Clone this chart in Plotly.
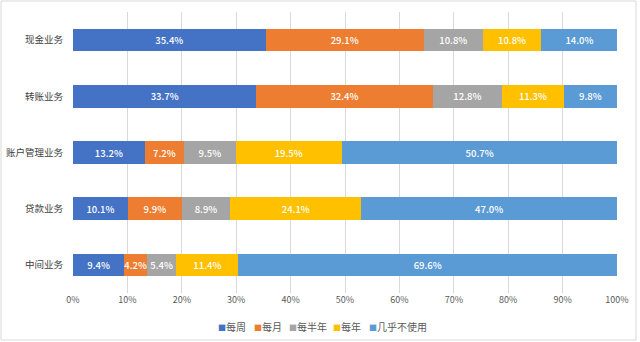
import plotly.graph_objects as go

# Business categories (top to bottom) and usage-frequency shares (%)
categories = ["现金业务", "转账业务", "账户管理业务", "贷款业务", "中间业务"]
series_names = ["每周", "每月", "每半年", "每年", "几乎不使用"]
weekly = [35.4, 33.7, 13.2, 10.1, 9.4]
monthly = [29.1, 32.4, 7.2, 9.9, 4.2]
half_year = [10.8, 12.8, 9.5, 8.9, 5.4]
yearly = [10.8, 11.3, 19.5, 24.1, 11.4]
rarely = [14.0, 9.8, 50.7, 47.0, 69.6]
x_ticks = [0, 10, 20, 30, 40, 50, 60, 70, 80, 90, 100]

series_values = [weekly, monthly, half_year, yearly, rarely]
colors = ["#4472C4", "#ED7D31", "#A5A5A5", "#FFC000", "#5B9BD5"]

FONT = "Noto Sans CJK SC"
W, H = 640, 342
ML, MR, MT, MB = 73, 23, 12, 49

fig = go.Figure()
for name, vals, col in zip(series_names, series_values, colors):
    fig.add_trace(go.Bar(
        y=categories,
        x=vals,
        name=name,
        orientation="h",
        marker=dict(color=col, line=dict(width=0)),
        text=[f"{v:.1f}%" for v in vals],
        textposition="inside",
        insidetextanchor="middle",
        constraintext="none",
        textfont=dict(family=FONT, size=9.5, color="white", weight=500),
        hoverinfo="skip",
        showlegend=False,
    ))

fig.update_layout(
    barmode="stack",
    bargap=0.6,
    width=W,
    height=H,
    margin=dict(l=ML, r=MR, t=MT, b=MB),
    paper_bgcolor="white",
    plot_bgcolor="white",
    font=dict(family=FONT, color="#404040"),
    xaxis=dict(
        range=[0, 100],
        tickvals=x_ticks,
        ticktext=[f"{t}%" for t in x_ticks],
        showgrid=True,
        gridcolor="#D9D9D9",
        gridwidth=1,
        zeroline=False,
        showline=False,
        ticks="",
        automargin=False,
        tickfont=dict(family=FONT, size=9, color="#595959"),
        fixedrange=True,
    ),
    yaxis=dict(
        autorange="reversed",
        showgrid=False,
        zeroline=False,
        showline=False,
        ticks="",
        automargin=False,
        ticklabelstandoff=9,
        tickfont=dict(family=FONT, size=9.5, color="#404040"),
        fixedrange=True,
    ),
    showlegend=False,
)

pw = W - ML - MR
ph = H - MT - MB

# Legend row: coloured square followed by series name, one entry per series
legend_left_px = [216, 252, 287, 331, 367]
for n, c, px in zip(series_names, colors, legend_left_px):
    fig.add_annotation(
        text=f"<span style='color:{c};font-size:8px'>■</span>{n}",
        xref="paper", yref="paper",
        x=(px - ML) / pw, xanchor="left",
        y=-(326 - MT - ph) / ph, yanchor="middle",
        showarrow=False,
        font=dict(family=FONT, size=10, color="#595959"),
    )

# Light frame around the whole chart
fig.add_shape(
    type="rect",
    xref="paper", yref="paper",
    x0=(1 - ML) / pw, x1=(W - 4 - ML) / pw,
    y0=-(H - 2 - MT - ph) / ph, y1=1 + (MT - 1) / ph,
    line=dict(color="#D9D9D9", width=1),
    fillcolor="rgba(0,0,0,0)",
    layer="below",
)

fig.write_html("out.html", config={"displayModeBar": False})
